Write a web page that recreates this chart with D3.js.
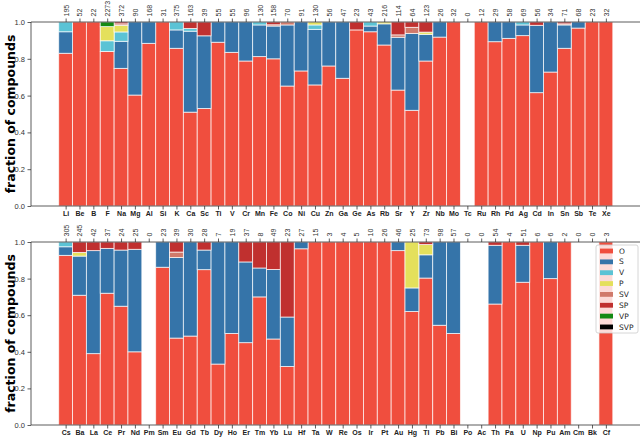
<!DOCTYPE html>
<html lang="en">
<head>
<meta charset="UTF-8">
<title>Fraction of compounds</title>
<script src="https://d3js.org/d3.v7.min.js"></script>
<style>
    body { margin: 0; background: #fff; }
    svg { font-family: "DejaVu Sans", sans-serif; display: block; }
</style>
</head>
<body>
<svg id="chart" width="640" height="438"></svg>
<script>
// series (stacked bottom to top) and their colours
const seriesNames = ["O", "S", "V", "P", "SV", "SP", "VP", "SVP"];
const seriesColors = ["#f04e3e", "#3574a9", "#5bc3d5", "#e4e05c", "#d07a6b", "#c0302f", "#138a13", "#000000"];

// top panel
const topElements = ["Li","Be","B","F","Na","Mg","Al","Si","K","Ca","Sc","Ti","V","Cr","Mn","Fe","Co","Ni","Cu","Zn",
    "Ga","Ge","As","Rb","Sr","Y","Zr","Nb","Mo","Tc","Ru","Rh","Pd","Ag","Cd","In","Sn","Sb","Te","Xe"];
const topCounts = [195,52,22,2273,372,90,168,31,375,163,39,55,55,96,130,158,70,91,130,56,
    47,23,43,216,114,64,123,26,32,0,12,29,58,69,56,34,71,68,23,32];
const topO   = [.83,1,1,.84,.748,.603,.884,1,.857,.51,.53,.89,.835,.788,.812,.80,.652,.734,.658,.761,
    .694,.957,.947,.875,.63,.52,.788,.918,1,0,1,.893,.911,.926,.616,.728,.857,.967,1,1];
const topS   = [.117,0,0,0,.147,.397,.116,0,.10,.44,.395,.11,.165,.212,.172,.178,.332,.266,.302,.239,
    .306,0,.031,.115,.287,.418,.145,.082,0,0,0,.107,.089,.058,.366,.272,.127,.033,0,0];
const topV   = [.053,0,0,.058,.051,0,0,0,.043,.015,0,0,0,0,.016,0,0,0,.024,0,
    0,0,.022,0,0,0,0,0,0,0,0,0,0,.016,0,0,0,0,0,0];
const topP   = [0,0,0,.077,.036,0,0,0,0,0,0,0,0,0,0,0,0,0,.016,0,
    0,0,0,.01,0,0,.012,0,0,0,0,0,0,0,0,0,0,0,0,0];
const topSV  = [0,0,0,0,.008,0,0,0,0,0,0,0,0,0,0,.007,.016,0,0,0,
    0,0,0,0,.013,.033,0,0,0,0,0,0,0,0,0,0,.006,0,0,0];
const topSP  = [0,0,0,0,.010,0,0,0,0,.035,.075,0,0,0,0,.015,0,0,0,0,
    0,.043,0,0,.07,.029,.055,0,0,0,0,0,0,0,.018,0,.01,0,0,0];
const topVP  = [0,0,0,.025,0,0,0,0,0,0,0,0,0,0,0,0,0,0,0,0,
    0,0,0,0,0,0,0,0,0,0,0,0,0,0,0,0,0,0,0,0];
const topSVP = [0,0,0,0,0,0,0,0,0,0,0,0,0,0,0,0,0,0,0,0,
    0,0,0,0,0,0,0,0,0,0,0,0,0,0,0,0,0,0,0,0];

// bottom panel
const botElements = ["Cs","Ba","La","Ce","Pr","Nd","Pm","Sm","Eu","Gd","Tb","Dy","Ho","Er","Tm","Yb","Lu","Hf","Ta","W",
    "Re","Os","Ir","Pt","Au","Hg","Tl","Pb","Bi","Po","Ac","Th","Pa","U","Np","Pu","Am","Cm","Bk","Cf"];
const botCounts = [305,245,42,37,24,25,0,23,39,30,28,7,19,37,8,49,23,27,15,3,
    4,5,10,26,46,25,73,98,57,0,0,54,4,51,6,6,2,0,0,3];
const botO   = [.927,.709,.39,.72,.649,.40,0,.862,.475,.486,.849,.333,.50,.45,.70,.47,.32,.963,1,1,
    1,1,1,1,.953,.62,.803,.545,.50,0,0,.661,1,.78,1,.80,1,0,0,1];
const botS   = [.047,.214,.563,.245,.307,.56,0,.138,.44,.514,.107,.667,.50,.441,.158,.38,.27,.037,0,0,
    0,0,0,0,.047,.129,.127,.455,.50,0,0,.321,0,.202,0,.20,0,0,0,0];
const botV   = [.026,0,0,0,0,0,0,0,0,0,0,0,0,0,0,0,0,0,0,0,
    0,0,0,0,0,0,0,0,0,0,0,0,0,0,0,0,0,0,0,0];
const botP   = [0,.02,0,0,0,0,0,0,0,0,0,0,0,0,0,0,0,0,0,0,
    0,0,0,0,0,.251,.056,0,0,0,0,0,0,0,0,0,0,0,0,0];
const botSV  = [0,0,0,0,0,0,0,0,.03,0,0,0,0,0,0,0,0,0,0,0,
    0,0,0,0,0,0,0,0,0,0,0,0,0,0,0,0,0,0,0,0];
const botSP  = [0,.057,.047,.035,.044,.04,0,0,.055,0,.044,0,0,.109,.142,.15,.41,0,0,0,
    0,0,0,0,0,0,.014,0,0,0,0,.018,0,.018,0,0,0,0,0,0];
const botVP  = [0,0,0,0,0,0,0,0,0,0,0,0,0,0,0,0,0,0,0,0,
    0,0,0,0,0,0,0,0,0,0,0,0,0,0,0,0,0,0,0,0];
const botSVP = [0,0,0,0,0,0,0,0,0,0,0,0,0,0,0,0,0,0,0,0,
    0,0,0,0,0,0,0,0,0,0,0,0,0,0,0,0,0,0,0,0];

const yTicks = [0, 0.2, 0.4, 0.6, 0.8, 1.0];

const svg = d3.select("#chart");
const color = d3.scaleOrdinal().domain(seriesNames).range(seriesColors);
const left = 31, right = 640.5;

function drawPanel(elements, counts, series, top, bottom, withLegend) {
    // one row object per element, stacked by series
    const rows = elements.map((el, i) => {
        const r = { el: el, i: i };
        seriesNames.forEach((k, j) => r[k] = series[j][i]);
        return r;
    });
    const stacked = d3.stack().keys(seriesNames)(rows);

    const x = d3.scaleLinear().domain([-2.5, 41.5]).range([left, right]);
    const y = d3.scaleLinear().domain([0, 1]).range([bottom, top]);

    const g = svg.append("g");

    g.selectAll("g.layer")
        .data(stacked)
        .join("g")
        .attr("class", "layer")
        .attr("fill", d => color(d.key))
        .selectAll("rect")
        .data(d => d.filter(s => s[1] - s[0] > 0))
        .join("rect")
        .attr("x", d => x(d.data.i - 0.5))
        .attr("width", d => x(d.data.i + 0.5) - x(d.data.i - 0.5))
        .attr("y", d => y(d[1]))
        .attr("height", d => y(d[0]) - y(d[1]))
        .attr("stroke", "#fff")
        .attr("stroke-opacity", 0.75)
        .attr("stroke-width", 0.9);

    // bottom axis: element names
    const xb = g.append("g")
        .attr("transform", `translate(0,${bottom})`)
        .call(d3.axisBottom(x).tickValues(d3.range(elements.length))
            .tickFormat(i => elements[i]).tickSize(3.5).tickPadding(2));
    xb.selectAll("text").attr("font-size", 7).attr("font-weight", "bold").attr("fill", "#222");

    // top axis: number of compounds
    const xt = g.append("g")
        .attr("transform", `translate(0,${top})`)
        .call(d3.axisTop(x).tickValues(d3.range(elements.length))
            .tickFormat(i => counts[i]).tickSize(3.5));
    xt.selectAll("text")
        .attr("transform", "rotate(-90)")
        .attr("x", 5.5).attr("y", 0).attr("dy", "0.35em")
        .attr("text-anchor", "start")
        .attr("font-size", 7).attr("fill", "#333");

    // left axis
    const ya = g.append("g")
        .attr("transform", `translate(${left},0)`)
        .call(d3.axisLeft(y).tickValues(yTicks).tickFormat(d3.format(".1f")).tickSize(3.5).tickPadding(2.5));
    ya.selectAll("text").attr("font-size", 7.5).attr("fill", "#333");

    g.selectAll(".domain").remove();
    g.selectAll(".tick line").attr("stroke", "#333").attr("stroke-width", 0.8);

    // frame
    g.append("path")
        .attr("d", `M${right + 5},${top}H${left}V${bottom}H${right + 5}`)
        .attr("fill", "none").attr("stroke", "#333").attr("stroke-width", 0.8);

    g.append("text")
        .attr("transform", `translate(10.5,${(top + bottom) / 2}) rotate(-90)`)
        .attr("text-anchor", "middle")
        .attr("dy", "0.35em")
        .attr("font-size", 12.5)
        .attr("font-weight", "bold")
        .attr("fill", "#000")
        .text("fraction of compounds");

    if (withLegend) {
        const lg = g.append("g").attr("transform", `translate(596,${top + 3})`);
        lg.append("rect")
            .attr("width", 42).attr("height", 88).attr("rx", 2)
            .attr("fill", "#fff").attr("fill-opacity", 0.8)
            .attr("stroke", "#ccc").attr("stroke-width", 0.8);
        const item = lg.selectAll("g.item")
            .data(seriesNames)
            .join("g")
            .attr("class", "item")
            .attr("transform", (d, i) => `translate(4,${6 + i * 10.85})`);
        item.append("rect")
            .attr("y", -2.4).attr("width", 13).attr("height", 4.8)
            .attr("fill", d => color(d));
        item.append("text")
            .attr("x", 19).attr("dy", "0.35em")
            .attr("font-size", 7.5).attr("fill", "#222")
            .text(d => d);
    }
}

drawPanel(topElements, topCounts, [topO, topS, topV, topP, topSV, topSP, topVP, topSVP], 22, 206, false);
drawPanel(botElements, botCounts, [botO, botS, botV, botP, botSV, botSP, botVP, botSVP], 242, 425, true);
</script>
</body>
</html>
